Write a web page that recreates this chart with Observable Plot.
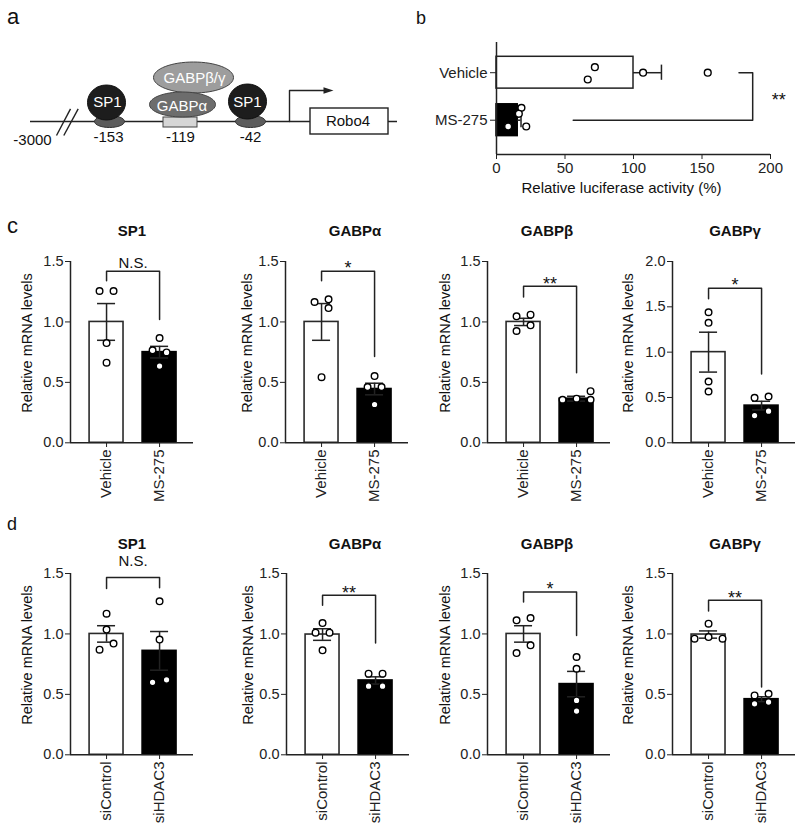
<!DOCTYPE html>
<html><head><meta charset="utf-8">
<script src="https://cdn.jsdelivr.net/npm/d3@7"></script>
<script src="https://cdn.jsdelivr.net/npm/@observablehq/plot@0.6"></script>
<style>
body{margin:0;background:#fff;}
#fig{position:relative;width:800px;height:832px;font-family:"Liberation Sans",Arial,sans-serif;color:#222;overflow:hidden;background:#fff}
#fig svg{position:absolute;overflow:visible}
.lbl{position:absolute;line-height:1;white-space:nowrap;color:#111}
</style></head><body><div id="fig"></div>
<script>
// ================= DATA =================
// panel b : luciferase reporter
const bGroups = ["Vehicle", "MS-275"];
const bMean = [100, 15.5];
const bSem = [20.4, 2.4];
const bVehicle = [71.8, 66.6, 107, 154.2];
const bMS275 = [18.2, 16.3, 8.5, 21.7];
const bVehicleJit = [-0.116, 0.143, 0, 0];
const bMS275Jit = [-0.26, -0.135, 0.133, 0.133];
const bBracket = [177, 187, 56];
const bSig = "**";
const bTicks = [0, 50, 100, 150, 200];

// panels c and d : genes
const genes = ["SP1", "GABPα", "GABPβ", "GABPγ"];

const cGroups = ["Vehicle", "MS-275"];
const cYMax = [1.5, 1.5, 1.5, 2.0];
const cMean = [[1.0, 0.75], [1.0, 0.445], [1.0, 0.365], [1.0, 0.41]];
const cSem = [[0.152, 0.048], [0.152, 0.048], [0.03, 0.02], [0.22, 0.048]];
const cVehicle = [[1.256, 1.256, 0.825, 0.663], [1.165, 1.187, 1.115, 0.543], [1.046, 1.06, 0.925, 0.972], [1.44, 1.324, 0.676, 0.566]];
const cVehicleJit = [[-1, 1, 0, 0], [-1, 1, 1, 0], [-1, 1, -1, 1], [0, 0, 0, 0]];
const cMS275 = [[0.867, 0.765, 0.748, 0.635], [0.552, 0.461, 0.461, 0.317], [0.356, 0.365, 0.356, 0.427], [0.496, 0.511, 0.30, 0.349]];
const cMS275Jit = [[0, -1, 1, 0], [0, -1, 1, 0], [-2, 0, 2, 2], [-1, 1, -1, 1]];
const cSig = ["N.S.", "*", "**", "*"];
const cBracket = [[1.34, 1.42, 1.02], [1.34, 1.42, 0.715], [1.207, 1.295, 0.58], [1.59, 1.705, 0.76]];

const dGroups = ["siControl", "siHDAC3"];
const dYMax = [1.5, 1.5, 1.5, 1.5];
const dMean = [[1.0, 0.86], [0.995, 0.615], [1.0, 0.585], [0.995, 0.46]];
const dSem = [[0.068, 0.16], [0.048, 0.03], [0.068, 0.105], [0.03, 0.02]];
const dControl = [[1.168, 0.87, 0.92, 1.036], [1.09, 1.01, 1.01, 0.864], [1.113, 1.132, 0.842, 0.906], [0.961, 0.974, 0.961, 1.085]];
const dControlJit = [[0, -1, 1, 0], [0, -1, 1, 0], [-1, 1, -1, 1], [-2, 0, 2, 0]];
const dHDAC3 = [[1.27, 0.953, 0.60, 0.62], [0.671, 0.671, 0.568, 0.568], [0.809, 0.712, 0.45, 0.362], [0.491, 0.505, 0.422, 0.436]];
const dHDAC3Jit = [[0, 0, -1, 1], [-1, 1, -1, 1], [0, 0, 0, 0], [-1, 1, -1, 1]];
const dSig = ["N.S.", "**", "*", "**"];
const dBracket = [[1.375, 1.466, 1.383], [1.237, 1.32, 0.925], [1.264, 1.347, 0.988], [1.19, 1.278, 0.56]];

// panel a : promoter schematic labels
const aPositions = ["-3000", "-153", "-119", "-42"];
const aFactors = ["SP1", "GABPα", "GABPβ/γ", "SP1"];
const aGene = "Robo4";

// ================= LAYOUT =================
const FONT = "'Liberation Sans', Arial, sans-serif";
const fig = document.getElementById("fig");
const baseStyle = {fontFamily: FONT, fontSize: "14.5px", color: "#222", background: "transparent", overflow: "visible"};
function place(el, left, top) { el.style.left = left + "px"; el.style.top = top + "px"; fig.appendChild(el); }
function label(text, x, baseline, size, bold, center) {
  const d = document.createElement("div");
  d.className = "lbl";
  d.textContent = text;
  d.style.fontSize = size + "px";
  if (bold) d.style.fontWeight = "bold";
  d.style.left = x + "px";
  d.style.top = (baseline - 0.847 * size) + "px";
  if (center) d.style.transform = "translateX(-50%)";
  fig.appendChild(d);
}
function ellipse(rx, ry) {
  return {draw(ctx) {
    const k = 0.5523;
    ctx.moveTo(rx, 0);
    ctx.bezierCurveTo(rx, ry * k, rx * k, ry, 0, ry);
    ctx.bezierCurveTo(-rx * k, ry, -rx, ry * k, -rx, 0);
    ctx.bezierCurveTo(-rx, -ry * k, -rx * k, -ry, 0, -ry);
    ctx.bezierCurveTo(rx * k, -ry, rx, -ry * k, rx, 0);
    ctx.closePath();
  }};
}
const arrowHead = {draw(ctx) { ctx.moveTo(5, 0); ctx.lineTo(-5, -3.2); ctx.lineTo(-5, 3.2); ctx.closePath(); }};

// ---------- panel a ----------
{
  const posX = [32, 108, 180, 250], posY = [140, 136.7, 136.7, 136.7];
  const posLabels = aPositions.map((t, i) => ({t, x: posX[i], y: posY[i]}));
  const facX = [107, 181.5, 194, 247], facY = [102, 105.5, 77.5, 102];
  const facLabels = aFactors.map((t, i) => ({t, x: facX[i], y: facY[i]}));
  const svg = Plot.plot({
    width: 400, height: 160, margin: 0,
    x: {domain: [0, 400], range: [0, 400], axis: null},
    y: {domain: [0, 160], range: [0, 160], axis: null},
    style: baseStyle,
    marks: [
      Plot.ruleY([121], {x1: 30, x2: 397, stroke: "#222", strokeWidth: 1.5}),
      Plot.link([{x1: 56, y1: 135, x2: 70, y2: 108.3}, {x1: 63.3, y1: 135, x2: 77.7, y2: 108.3}],
        {x1: "x1", y1: "y1", x2: "x2", y2: "y2", stroke: "#222", strokeWidth: 1.4}),
      Plot.line([{x: 289, y: 121}, {x: 289, y: 90}, {x: 325, y: 90}], {x: "x", y: "y", stroke: "#222", strokeWidth: 1.4}),
      Plot.dot([{x: 328, y: 90}], {x: "x", y: "y", symbol: arrowHead, fill: "#222", stroke: "none"}),
      Plot.rect([{}], {x1: 163, x2: 197, y1: 117, y2: 127, fill: "#d6d6d6", stroke: "#444", strokeWidth: 1}),
      Plot.dot([{x: 109, y: 121}, {x: 250, y: 121}], {x: "x", y: "y", symbol: ellipse(15, 6), fill: "#5c5c5c", stroke: "#333", strokeWidth: 1}),
      Plot.dot([{x: 193, y: 77}], {x: "x", y: "y", symbol: ellipse(40, 15.5), fill: "#9d9d9d", stroke: "#444", strokeWidth: 1}),
      Plot.dot([{x: 182, y: 104}], {x: "x", y: "y", symbol: ellipse(33, 12.5), fill: "#6d6d6d", stroke: "#444", strokeWidth: 1}),
      Plot.dot([{x: 106, y: 102}, {x: 247, y: 101}], {x: "x", y: "y", symbol: ellipse(19, 17.5), fill: "#1d1d1d", stroke: "#111", strokeWidth: 1}),
      Plot.rect([{}], {x1: 310, x2: 388, y1: 108, y2: 134, fill: "white", stroke: "#222", strokeWidth: 1.4}),
      Plot.text([aGene], {x: 347.5, y: 121, fontSize: 15, fill: "#111"}),
      Plot.text(facLabels, {x: "x", y: "y", text: "t", fontSize: 15, fill: "white"}),
      Plot.text(posLabels, {x: "x", y: "y", text: "t", fontSize: 15, fill: "#111"})
    ]
  });
  place(svg, 0, 0);
}

// ---------- panel b ----------
{
  const bars = bGroups.map((g, i) => ({i, m: bMean[i], s: bSem[i]}));
  const pts = [
    ...bVehicle.map((v, k) => ({i: 0, v, j: bVehicleJit[k]})),
    ...bMS275.map((v, k) => ({i: 1, v, j: bMS275Jit[k]}))
  ];
  const yDom = [-0.636, 1.722];
  const bracket = [{x: bBracket[0], y: 0}, {x: bBracket[1], y: 0}, {x: bBracket[1], y: 1}, {x: bBracket[2], y: 1}];
  const svg = Plot.plot({
    width: 400, height: 200, marginLeft: 96, marginRight: 30, marginTop: 42, marginBottom: 46,
    x: {domain: [0, 200], range: [96, 370]},
    y: {domain: yDom, range: [42, 154]},
    style: {...baseStyle, fontSize: "15px"},
    marks: [
      Plot.rect([bars[0]], {x1: 0, x2: "m", y1: d => d.i - 0.335, y2: d => d.i + 0.335, fill: "white", stroke: "#222", strokeWidth: 1.5}),
      Plot.rect([bars[1]], {x1: 0, x2: "m", y1: d => d.i - 0.335, y2: d => d.i + 0.335, fill: "black", stroke: "black", strokeWidth: 1.5}),
      Plot.ruleY(bars, {y: "i", x1: "m", x2: d => d.m + d.s, stroke: "#222", strokeWidth: 1.5}),
      Plot.ruleX(bars, {x: d => d.m + d.s, y1: d => d.i - 0.16, y2: d => d.i + 0.16, stroke: "#222", strokeWidth: 1.5}),
      Plot.dot(pts, {x: "v", y: d => d.i + d.j, r: 3.4, fill: "white", stroke: "black", strokeWidth: 1.4}),
      Plot.line(bracket, {x: "x", y: "y", stroke: "#222", strokeWidth: 1.5}),
      Plot.text([bSig], {x: bBracket[1], y: 0.5, dx: 26, dy: 4, fontSize: 18, fill: "#111"}),
      Plot.ruleX([0], {stroke: "#222", strokeWidth: 1.5}),
      Plot.ruleY([yDom[1]], {stroke: "#222", strokeWidth: 1.5}),
      Plot.axisX({ticks: bTicks, tickSize: 5, tickPadding: 3, label: null, fontSize: 15}),
      Plot.axisY({ticks: [0, 1], tickFormat: i => bGroups[i], tickSize: 6, tickPadding: 3, label: null, fontSize: 15}),
      Plot.text(["Relative luciferase activity (%)"], {frameAnchor: "bottom", dx: -12, dy: 38, fontSize: 15, fill: "#111"})
    ]
  });
  place(svg, 400, 0);
}

// ---------- panels c, d ----------
function barPanel(cfg) {
  const {left, top, groups, mean, sem, a, aj, b, bj, yMax, bracket, sig, labelDx, sigDy} = cfg;
  const bars = groups.map((g, i) => ({i, m: mean[i], s: sem[i]}));
  const pts = [...a.map((v, k) => ({i: 0, v, j: aj[k]})), ...b.map((v, k) => ({i: 1, v, j: bj[k]}))];
  const xDom = [-0.68, 1.64];
  const br = [{x: 0, y: bracket[0]}, {x: 0, y: bracket[1]}, {x: 1, y: bracket[1]}, {x: 1, y: bracket[2]}];
  const svg = Plot.plot({
    width: 195, height: 266, marginLeft: 62, marginRight: 10, marginTop: 10, marginBottom: 75,
    x: {domain: xDom, range: [62, 185]},
    y: {domain: [0, yMax], range: [191.3, 10]},
    style: baseStyle,
    marks: [
      Plot.rect([bars[0]], {x1: d => d.i - 0.32, x2: d => d.i + 0.32, y1: 0, y2: "m", fill: "white", stroke: "#2a2a2a", strokeWidth: 1.6}),
      Plot.rect([bars[1]], {x1: d => d.i - 0.32, x2: d => d.i + 0.32, y1: 0, y2: "m", fill: "black", stroke: "black", strokeWidth: 1.6}),
      Plot.ruleX(bars, {x: "i", y1: d => d.m - d.s, y2: d => d.m + d.s, stroke: "#222", strokeWidth: 1.5}),
      Plot.ruleY(bars, {y: d => d.m + d.s, x1: d => d.i - 0.17, x2: d => d.i + 0.17, stroke: "#222", strokeWidth: 1.5}),
      Plot.ruleY(bars, {y: d => d.m - d.s, x1: d => d.i - 0.17, x2: d => d.i + 0.17, stroke: "#222", strokeWidth: 1.5}),
      Plot.dot(pts, {x: d => d.i + d.j * 0.132, y: "v", r: 3.3, fill: "white", stroke: "black", strokeWidth: 1.4}),
      Plot.line(br, {x: "x", y: "y", stroke: "#222", strokeWidth: 1.5}),
      Plot.text([sig], {x: 0.5, y: bracket[1], dy: sigDy, fontSize: sig === "N.S." ? 15 : 18, fill: "#111"}),
      Plot.ruleY([0], {stroke: "#222", strokeWidth: 1.5}),
      Plot.ruleX([xDom[0]], {y1: 0, y2: yMax, stroke: "#222", strokeWidth: 1.5}),
      Plot.axisY({ticks: d3.range(0, yMax + 0.001, 0.5), tickFormat: d3.format(".1f"), tickSize: 5, tickPadding: 2, label: null, fontSize: 14.5}),
      Plot.axisX({ticks: [0, 1], tickFormat: i => groups[i], tickRotate: -90, tickSize: 5, tickPadding: 2, label: null, fontSize: 15}),
      Plot.text(["Relative mRNA levels"], {frameAnchor: "left", textAnchor: "middle", rotate: -90, dx: labelDx, dy: -9, fontSize: 14.5, fill: "#111"})
    ]
  });
  place(svg, left, top);
}

const cAxisX = [70, 285, 487, 672];
const dAxisX = [70, 286, 487, 672];
const titleX = [132, 355, 547, 735];
const labelDx = [-43, -38, -42, -44];
const cSigDy = [-8.4, -3, -2, -3];
const dSigDy = [-16, -2, -2.5, -2.3];

genes.forEach((g, k) => {
  barPanel({left: cAxisX[k] - 62, top: 251, groups: cGroups, mean: cMean[k], sem: cSem[k],
    a: cVehicle[k], aj: cVehicleJit[k], b: cMS275[k], bj: cMS275Jit[k], yMax: cYMax[k],
    bracket: cBracket[k], sig: cSig[k], labelDx: labelDx[k], sigDy: cSigDy[k]});
  barPanel({left: dAxisX[k] - 62, top: 563.3, groups: dGroups, mean: dMean[k], sem: dSem[k],
    a: dControl[k], aj: dControlJit[k], b: dHDAC3[k], bj: dHDAC3Jit[k], yMax: dYMax[k],
    bracket: dBracket[k], sig: dSig[k], labelDx: labelDx[k], sigDy: dSigDy[k]});
  label(g, titleX[k], 236, 15, true, true);
  label(g, titleX[k], 548.3, 15, true, true);
});

// panel letters
label("a", 7, 25, 22, false, false);
label("b", 416, 24, 18, false, false);
label("c", 7, 233.3, 22, false, false);
label("d", 7, 530, 18, false, false);
</script></body></html>
